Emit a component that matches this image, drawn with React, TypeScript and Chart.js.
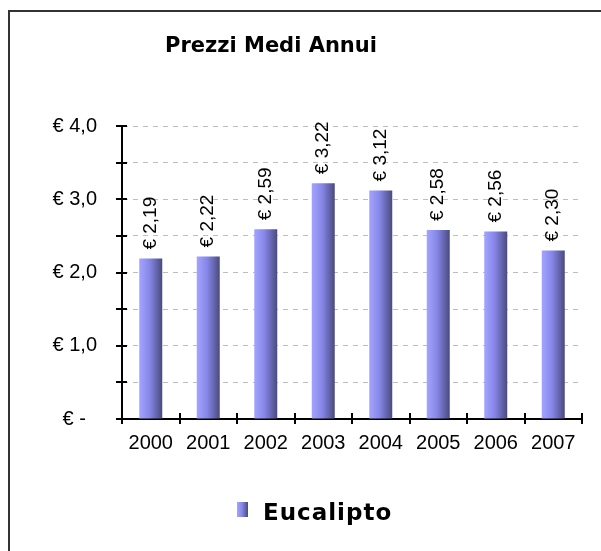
import { useEffect, useRef } from 'react';
import { Chart, registerables } from 'chart.js';

Chart.register(...registerables);

const categories = ['2000', '2001', '2002', '2003', '2004', '2005', '2006', '2007'];
const eucalipto = [2.19, 2.22, 2.59, 3.22, 3.12, 2.58, 2.56, 2.3];
const seriesName = 'Eucalipto';
const titleText = 'Prezzi Medi Annui';
const yMin = 0;
const yMax = 4;
const yStep = 0.5;

const fmtEuro = (v: number, d: number) => '€ ' + v.toFixed(d).replace('.', ',');

const makeGradient = (c: CanvasRenderingContext2D, x0: number, x1: number) => {
  const g = c.createLinearGradient(x0, 0, x1, 0);
  g.addColorStop(0, '#a4a4ff');
  g.addColorStop(0.45, '#8686e8');
  g.addColorStop(1, '#4a4a7e');
  return g;
};

const decorPlugin = {
  id: 'decor',
  beforeDraw(chart: any) {
    const c = chart.ctx;
    c.save();
    c.fillStyle = '#ffffff';
    c.fillRect(0, 0, chart.width, chart.height);
    c.strokeStyle = '#333333';
    c.lineWidth = 2;
    c.strokeRect(9, 11, chart.width + 20, chart.height + 20);
    c.restore();
  },
  afterDatasetsDraw(chart: any) {
    const c = chart.ctx;
    const meta = chart.getDatasetMeta(0);
    c.save();
    c.fillStyle = '#000';
    c.font = '19px "Liberation Sans", Arial, sans-serif';
    c.textAlign = 'left';
    c.textBaseline = 'middle';
    meta.data.forEach((bar: any, i: number) => {
      c.save();
      c.translate(bar.x, bar.y - 9);
      c.rotate(-Math.PI / 2);
      c.fillText(fmtEuro(eucalipto[i], 2), 0, 0);
      c.restore();
    });
    c.restore();
  },
  afterDraw(chart: any) {
    const c = chart.ctx;
    const { x, y } = chart.scales;
    c.save();
    c.strokeStyle = '#000';
    c.lineWidth = 2;
    c.beginPath();
    y.ticks.forEach((_t: any, i: number) => {
      const py = Math.round(y.getPixelForTick(i));
      c.moveTo(y.right - 6, py);
      c.lineTo(y.right + 5, py);
    });
    for (let i = 0; i <= categories.length; i++) {
      const px = Math.round(x.getPixelForValue(i - 0.5));
      c.moveTo(px, x.top - 6);
      c.lineTo(px, x.top + 5);
    }
    c.stroke();

    // title
    c.fillStyle = '#000';
    c.font = 'bold 21px "DejaVu Sans", Verdana, sans-serif';
    c.textAlign = 'center';
    c.textBaseline = 'alphabetic';
    c.fillText(titleText, 271, 52);

    // legend
    c.fillStyle = makeGradient(c, 237, 248);
    c.fillRect(237, 502, 11, 15);
    c.fillStyle = '#000';
    c.font = 'bold 23px "DejaVu Sans", Verdana, sans-serif';
    c.textAlign = 'left';
    try {
      (c as any).letterSpacing = '1px';
    } catch (e) {
      /* ignore */
    }
    c.fillText(seriesName, 263, 520);
    c.restore();
  },
};

export default function App() {
  const ref = useRef<HTMLCanvasElement | null>(null);
  useEffect(() => {
    if (!ref.current) return;
    const chart = new Chart(ref.current, {
      type: 'bar',
      data: {
        labels: categories,
        datasets: [
          {
            label: seriesName,
            data: eucalipto,
            categoryPercentage: 1,
            barPercentage: 0.4,
            borderWidth: 0,
            backgroundColor: (ctx: any) => {
              const ch = ctx.chart;
              const xs = ch.scales ? ch.scales.x : undefined;
              if (!xs || typeof ctx.dataIndex !== 'number') return '#8686e8';
              const cx = xs.getPixelForValue(ctx.dataIndex);
              const w = (xs.width / categories.length) * 0.4;
              if (!isFinite(cx) || !isFinite(w) || w <= 0) return '#8686e8';
              return makeGradient(ch.ctx, cx - w / 2, cx + w / 2);
            },
          },
        ],
      },
      options: {
        animation: false,
        responsive: true,
        maintainAspectRatio: false,
        layout: { padding: { left: 0, top: 126, right: 19, bottom: 92 } },
        plugins: {
          legend: { display: false },
          title: { display: false },
          tooltip: { enabled: false },
        },
        scales: {
          x: {
            afterFit: (s: any) => {
              s.height = 40;
            },
            grid: { drawOnChartArea: false, drawTicks: false },
            border: { display: true, color: '#000', width: 2 },
            ticks: {
              color: '#000',
              font: { family: '"Liberation Sans", Arial, sans-serif', size: 20 },
              padding: 12,
              maxRotation: 0,
              autoSkip: false,
            },
          },
          y: {
            min: yMin,
            max: yMax,
            afterFit: (s: any) => {
              s.width = 122;
            },
            grid: { color: '#bdbdbd', lineWidth: 1, drawTicks: false },
            border: { display: true, color: '#000', width: 2, dash: [5, 5] },
            ticks: {
              stepSize: yStep,
              color: '#000',
              font: { family: '"Liberation Sans", Arial, sans-serif', size: 20 },
              padding: 25,
              autoSkip: false,
              callback: (v: any) => {
                const n = Number(v);
                if (Math.abs(n) < 1e-9) return '€ -  ';
                if (Math.abs(n - Math.round(n)) < 1e-9) return fmtEuro(n, 1);
                return '';
              },
            },
          },
        },
      },
      plugins: [decorPlugin],
    });
    return () => chart.destroy();
  }, []);
  return (
    <div style={{ position: 'fixed', left: 0, top: 0, width: 601, height: 551 }}>
      <canvas ref={ref} />
    </div>
  );
}
